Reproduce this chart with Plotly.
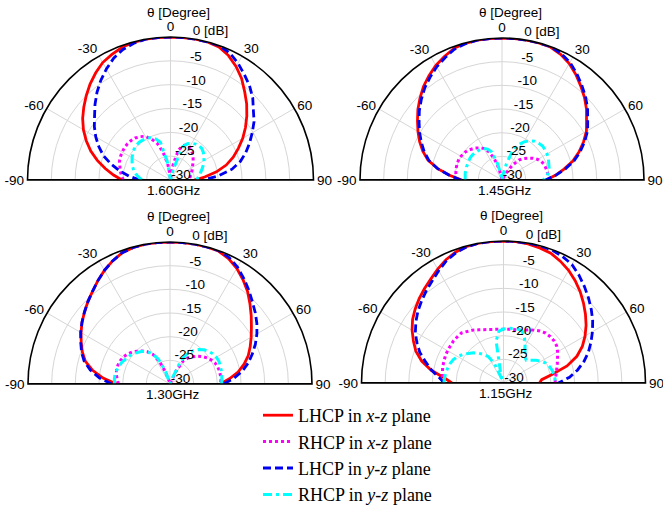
import plotly.graph_objects as go

# ---------------- data ----------------
THETA = list(range(-90, 91, 5))  # degrees
FREQS = ["1.60GHz", "1.45GHz", "1.30GHz", "1.15GHz"]
ANG_TICKS = [-90, -60, -30, 0, 30, 60, 90]
RAD_TICKS = [-30, -25, -20, -15, -10, -5, 0]
RAD_TEXT = ["-30", "-25", "-20", "-15", "-10", "-5", "0 [dB]"]

# 1.60 GHz
LHCP_XZ_160 = [-19.8, -18.0, -16.1, -14.1, -12.2, -10.5, -8.9, -7.5, -6.25, -5.0, -3.75, -2.6, -1.55, -0.93, -0.38, -0.1, 0, 0, 0,
               0, 0, 0, -0.3, -1.2, -2.5, -4.0, -5.8, -7.4, -9.1, -10.8, -12.5, -14.3, -16.0, -17.9, -20.2, -22.8, -25.0]
RHCP_XZ_160 = [-20.1, -19.7, -19.3, -19.0, -18.6, -18.4, -18.3, -18.2, -18.2, -18.3, -18.5, -18.9, -19.4, -20.5, -21.8, -24.0, -26.5, -28.8, -30,
               -28.8, -26.5, -23.5, -22.3, -21.9, -22.1, -22.4, -22.8, -23.3, -23.8, -24.3, -24.7, -25.0, -25.3, -25.6, -25.8, -26.0, -26.2]
LHCP_YZ_160 = [-23.6, -21.4, -19.2, -17.1, -15.0, -13.4, -11.9, -10.5, -9.2, -7.6, -6.0, -4.5, -3.1, -1.8, -0.85, -0.3, 0, 0, 0,
               0, 0, 0, 0, -0.6, -1.7, -3.0, -4.2, -5.6, -7.3, -8.6, -10.2, -11.7, -13.2, -14.8, -16.9, -19.9, -23.1]
RHCP_YZ_160 = [-24.0, -23.3, -22.6, -22.0, -21.5, -21.1, -20.7, -20.3, -20.0, -19.8, -19.7, -19.8, -19.9, -20.2, -20.8, -21.8, -26.0, -30, -30,
               -30, -30, -27.5, -22.6, -21.6, -21.1, -20.8, -20.6, -20.7, -21.0, -21.4, -21.9, -22.4, -22.9, -23.4, -23.8, -24.2, -24.5]

# 1.45 GHz
LHCP_XZ_145 = [-21.5, -19.0, -16.2, -13.8, -12.2, -10.8, -9.5, -8.2, -6.8, -5.5, -4.2, -3.1, -2.05, -1.2, -0.4, -0.1, 0, 0, 0,
               0, 0, 0, -0.1, -0.7, -1.6, -2.8, -4.1, -5.35, -6.7, -8.2, -9.4, -11.0, -12.7, -14.5, -16.7, -18.7, -20.6]
RHCP_XZ_145 = [-20.3, -20.2, -20.1, -20.0, -19.9, -19.9, -20.0, -20.1, -20.4, -20.8, -21.2, -21.7, -22.3, -23.4, -25.2, -27.5, -29.5, -30, -30,
               -30, -30, -30, -30, -30, -28.5, -26.2, -24.5, -23.6, -22.8, -22.0, -21.3, -20.8, -20.5, -20.4, -20.3, -20.2, -20.2]
LHCP_YZ_145 = [-21.3, -18.9, -16.2, -14.0, -12.5, -11.2, -9.9, -8.6, -7.2, -5.9, -4.6, -3.5, -2.4, -1.5, -0.6, -0.2, 0, 0, 0,
               0, 0, 0, 0, -0.5, -1.3, -2.5, -3.8, -5.05, -6.4, -7.9, -9.1, -10.7, -12.4, -14.2, -16.4, -18.6, -20.8]
RHCP_YZ_145 = [-22.2, -22.2, -22.1, -22.1, -22.0, -22.0, -21.9, -21.8, -21.8, -21.9, -22.0, -22.1, -22.3, -22.8, -23.7, -26.5, -29.0, -30, -30,
               -30, -29.0, -26.6, -23.2, -21.8, -20.7, -19.9, -19.3, -19.0, -18.8, -18.9, -19.0, -19.2, -19.5, -19.7, -20.0, -20.5, -21.3]

# 1.30 GHz
LHCP_XZ_130 = [-18.7, -15.8, -13.4, -11.5, -10.3, -9.3, -8.3, -7.3, -6.4, -5.45, -4.5, -3.4, -2.3, -1.3, -0.5, -0.15, 0, 0, 0,
               0, 0, 0, -0.1, -0.75, -1.8, -3.1, -4.5, -6.1, -7.6, -9.0, -10.2, -11.3, -12.4, -13.8, -15.4, -17.4, -19.4]
RHCP_XZ_130 = [-19.1, -18.8, -18.5, -18.3, -18.3, -18.4, -18.6, -19.0, -19.5, -20.2, -20.9, -21.7, -22.8, -24.8, -27.5, -29.5, -30, -30, -30,
               -30, -30, -30, -30, -27.0, -24.3, -23.3, -22.5, -21.7, -21.0, -20.4, -19.9, -19.5, -19.3, -19.2, -19.2, -19.2, -19.3]
LHCP_YZ_130 = [-17.7, -15.0, -12.9, -11.2, -10.1, -9.2, -8.2, -7.3, -6.4, -5.45, -4.5, -3.4, -2.3, -1.3, -0.5, -0.15, 0, 0, 0,
               0, 0, 0, 0, -0.5, -1.5, -2.8, -4.1, -5.4, -6.5, -7.6, -8.8, -10.1, -11.5, -12.9, -14.5, -16.5, -18.7]
RHCP_YZ_130 = [-18.3, -18.2, -18.2, -18.4, -18.6, -18.9, -19.3, -19.6, -20.0, -20.5, -21.0, -21.7, -22.6, -24.2, -27.0, -29.5, -30, -30, -30,
               -30, -30, -30, -29.0, -24.5, -22.4, -21.4, -20.5, -19.8, -19.3, -18.9, -18.7, -18.6, -18.7, -18.8, -18.9, -19.0, -19.1]

# 1.15 GHz
LHCP_XZ_115 = [-19.1, -17.4, -14.5, -12.1, -10.3, -9.0, -7.7, -6.55, -5.65, -4.8, -4.0, -3.2, -2.2, -1.25, -0.55, -0.15, 0, 0, 0,
               0, -0.15, -0.45, -0.8, -1.6, -2.5, -3.6, -4.8, -6.1, -7.4, -8.7, -10.1, -11.6, -13.5, -16.1, -19.6, -21.9, -22.4]
RHCP_XZ_115 = [-17.2, -17.0, -16.9, -16.7, -16.6, -16.45, -16.35, -16.3, -16.2, -16.2, -16.2, -16.7, -17.1, -17.6, -18.0, -18.3, -18.5, -18.6, -18.65,
               -18.6, -18.5, -18.35, -18.2, -17.6, -17.1, -16.6, -16.2, -16.1, -16.1, -16.3, -16.8, -17.4, -17.9, -18.35, -18.7, -19.0, -19.1]
LHCP_YZ_115 = [-17.5, -16.3, -14.6, -13.0, -11.2, -9.8, -8.5, -7.4, -6.4, -5.5, -4.6, -3.7, -2.6, -1.5, -0.7, -0.2, 0, 0, 0,
               0, 0, 0, -0.1, -0.5, -1.1, -2.2, -3.4, -4.6, -5.8, -7.0, -8.3, -9.6, -10.9, -12.4, -14.1, -16.0, -18.4]
RHCP_YZ_115 = [-17.4, -17.5, -17.6, -17.8, -18.0, -18.3, -18.8, -19.5, -20.3, -21.0, -21.8, -22.6, -23.6, -25.5, -29.5, -27.5, -21.0, -19.0, -18.6,
               -18.4, -18.3, -18.2, -18.4, -19.5, -20.9, -22.1, -22.9, -23.2, -22.5, -21.6, -20.8, -20.1, -19.7, -19.4, -19.2, -19.1, -19.0]

DATA = [
    [LHCP_XZ_160, RHCP_XZ_160, LHCP_YZ_160, RHCP_YZ_160],
    [LHCP_XZ_145, RHCP_XZ_145, LHCP_YZ_145, RHCP_YZ_145],
    [LHCP_XZ_130, RHCP_XZ_130, LHCP_YZ_130, RHCP_YZ_130],
    [LHCP_XZ_115, RHCP_XZ_115, LHCP_YZ_115, RHCP_YZ_115],
]
NAMES = ["LHCP in <i>x</i>-<i>z</i> plane", "RHCP in <i>x</i>-<i>z</i> plane",
         "LHCP in <i>y</i>-<i>z</i> plane", "RHCP in <i>y</i>-<i>z</i> plane"]

# ---------------- style ----------------
COLORS = ["#ff0000", "#ff00ff", "#0000f0", "#00ffff"]
DASHES = ["solid", "3px,3px", "8px,4px", "9px,4px,3px,4px"]
WIDTHS = [2.8, 3, 2.8, 3]
SANS = "Liberation Sans, Arial, sans-serif"
SERIF = "Liberation Serif, Times New Roman, serif"
LABEL_THETA = 9.0     # direction along which the dB labels are written
LABEL_DR = 1.0        # small radial offset of the dB labels

W, H = 663, 506
# (cx, baseline_y, R) in pixels for each subplot
GEOM = [(170.5, 180, 143), (502, 180, 142), (170, 384, 142), (503.5, 383, 142)]

# label radii (outermost label sits on the rim, written above it)
LABEL_R = [min(v + LABEL_DR, RAD_TICKS[-1]) for v in RAD_TICKS]
LABEL_POS = ["middle right"] * (len(RAD_TICKS) - 1) + ["top right"]

fig = go.Figure()
polar_names = ["polar", "polar2", "polar3", "polar4"]
for k in range(4):
    sp = polar_names[k]
    # baseline diameter
    fig.add_trace(go.Scatterpolar(theta=[-90, 90], r=[0, 0], mode="lines",
                                  line=dict(color="black", width=2), subplot=sp,
                                  showlegend=False, hoverinfo="skip"))
    for j in range(4):
        fig.add_trace(go.Scatterpolar(
            theta=THETA, r=DATA[k][j], mode="lines", name=NAMES[j],
            line=dict(color=COLORS[j], dash=DASHES[j], width=WIDTHS[j]),
            subplot=sp, showlegend=(k == 0), legendgroup=str(j)))
    # radial (dB) tick labels
    fig.add_trace(go.Scatterpolar(
        theta=[LABEL_THETA] * len(RAD_TICKS), r=LABEL_R,
        text=RAD_TEXT, mode="text", textposition=LABEL_POS,
        textfont=dict(family=SANS, size=13.5, color="black"),
        cliponaxis=False, subplot=sp, showlegend=False, hoverinfo="skip"))

layout_polars = {}
annotations = []
for k in range(4):
    cx, by, R = GEOM[k]
    dom = dict(x=[(cx - R) / W, (cx + R) / W], y=[1 - by / H, 1 - (by - R) / H])
    layout_polars[polar_names[k]] = dict(
        domain=dom, sector=[0, 180], bgcolor="white",
        angularaxis=dict(rotation=90, direction="clockwise", tickmode="array",
                         tickvals=ANG_TICKS, ticktext=[str(v) for v in ANG_TICKS],
                         showgrid=True, gridcolor="#d6d6d6", gridwidth=1,
                         showline=True, linecolor="black", linewidth=1.6, ticks="",
                         tickfont=dict(family=SANS, size=13.5, color="black")),
        radialaxis=dict(range=[-30, 0], tickmode="array", tickvals=RAD_TICKS,
                        angle=90, showticklabels=False, showline=False, ticks="",
                        showgrid=True, gridcolor="#d6d6d6", gridwidth=1),
    )
    annotations.append(dict(text="θ [Degree]", x=(cx + 8) / W, y=1 - (by - 167.5) / H,
                            xref="paper", yref="paper", xanchor="center", yanchor="middle",
                            showarrow=False, font=dict(family=SANS, size=13.5, color="black")))
    annotations.append(dict(text=FREQS[k], x=(cx + 3) / W, y=1 - (by + 10) / H,
                            xref="paper", yref="paper", xanchor="center", yanchor="middle",
                            showarrow=False, font=dict(family=SANS, size=13.5, color="black")))

fig.update_layout(
    width=W, height=H, margin=dict(l=0, r=0, t=0, b=0, autoexpand=False),
    paper_bgcolor="white", plot_bgcolor="white",
    showlegend=True,
    legend=dict(x=258 / W, y=1 - 397 / H, xanchor="left", yanchor="top",
                font=dict(family=SERIF, size=18, color="black"),
                bgcolor="rgba(0,0,0,0)", tracegroupgap=0),
    annotations=annotations,
    **layout_polars,
)

fig.write_html("out.html", config={"displayModeBar": False},
               post_script="document.body.style.margin='0px';document.body.style.overflow='hidden';")
